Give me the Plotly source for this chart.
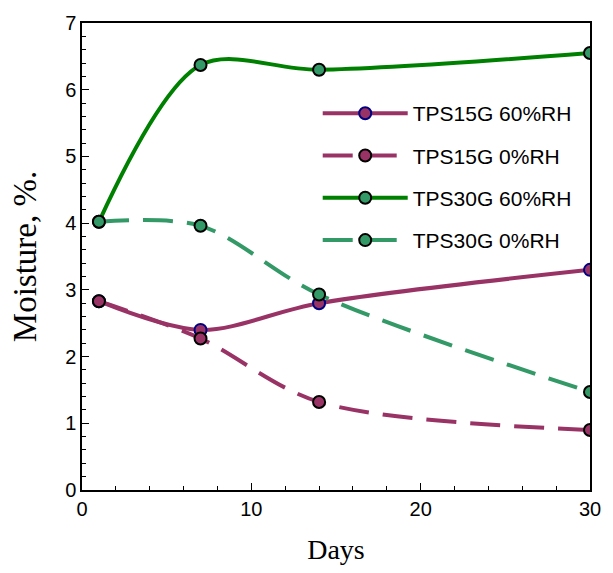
import plotly.graph_objects as go

days = [1, 7, 14, 30]
tps15_60 = [2.83, 2.40, 2.80, 3.30]
tps15_0 = [2.83, 2.27, 1.32, 0.90]
tps30_60 = [4.02, 6.37, 6.30, 6.55]
tps30_0 = [4.02, 3.96, 2.93, 1.47]

names = ["TPS15G 60%RH", "TPS15G 0%RH", "TPS30G 60%RH", "TPS30G 0%RH"]

plum = "#993366"
green = "#008000"
sea = "#339966"

styles = [
    dict(series=tps15_60, lc=plum, dash="solid", mf=plum, me="#000080"),
    dict(series=tps15_0, lc=plum, dash="30px,14px", mf=plum, me="#000000"),
    dict(series=tps30_60, lc=green, dash="solid", mf=sea, me="#000000"),
    dict(series=tps30_0, lc=sea, dash="30px,14px", mf=sea, me="#000000"),
]

fig = go.Figure()
for i, (nm, s) in enumerate(zip(names, styles)):
    fig.add_trace(go.Scatter(
        x=days, y=s["series"], name=nm, mode="lines+markers",
        line=dict(color=s["lc"], width=4, dash=s["dash"], shape="spline", smoothing=0.9),
        marker=dict(size=12, color=s["mf"], line=dict(color=s["me"], width=2)),
        legendgroup=f"g{i}",
    ))

fig.update_layout(
    width=613, height=573,
    margin=dict(l=82, r=15, t=18, b=83),
    paper_bgcolor="white", plot_bgcolor="white",
    showlegend=True,
    legend=dict(
        x=0.464, y=0.85, xanchor="left", yanchor="top",
        font=dict(family="Liberation Sans, Arial", size=21, color="black"),
        bgcolor="rgba(0,0,0,0)", itemwidth=85, tracegroupgap=12,
    ),
    font=dict(family="Liberation Sans, Arial", color="black"),
)

fig.update_xaxes(
    range=[0, 30], tickvals=[0, 10, 20, 30],
    showgrid=False, zeroline=False,
    showline=True, linecolor="black", linewidth=1.5, mirror=True,
    ticks="inside", ticklen=7, tickcolor="black",
    minor=dict(dtick=2, ticks="inside", ticklen=4, tickcolor="black"),
    tickfont=dict(family="Liberation Sans, Arial", size=20),
    title=dict(text="Days", font=dict(family="Liberation Serif, Times New Roman", size=28), standoff=21),
)
fig.update_yaxes(
    range=[0, 7], tickvals=list(range(8)),
    showgrid=False, zeroline=False,
    showline=True, linecolor="black", linewidth=1.5, mirror=True,
    ticks="inside", ticklen=7, tickcolor="black",
    minor=dict(dtick=0.2, ticks="inside", ticklen=4, tickcolor="black"),
    tickfont=dict(family="Liberation Sans, Arial", size=20),
    title=dict(text="Moisture, %.", font=dict(family="Liberation Serif, Times New Roman", size=33), standoff=19),
)

fig.write_html("out.html")
